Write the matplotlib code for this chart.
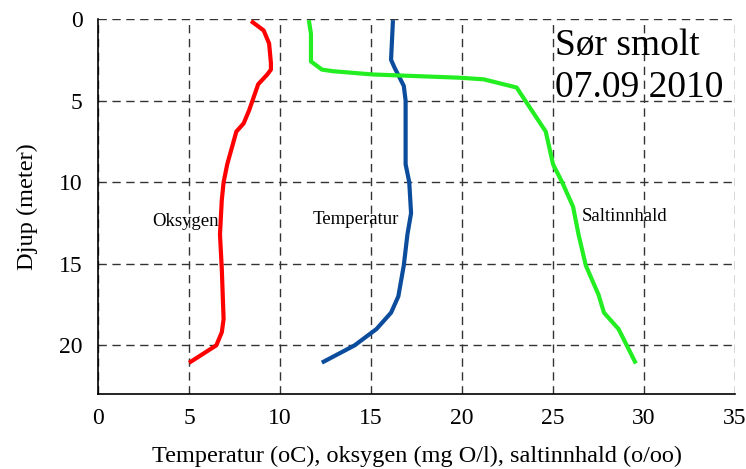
import matplotlib
matplotlib.use("Agg")
import matplotlib.pyplot as plt

# depth profiles, Sør smolt 07.09 2010
oxy_depth = [0.2, 0.7, 1.5, 2.7, 3.1, 3.4, 4.0, 5.6, 6.4, 6.9, 8.9, 10.0, 11.1, 13.2, 15.3, 18.4, 19.2, 20.0, 21.0]
oxy_value = [8.5, 9.1, 9.4, 9.5, 9.5, 9.3, 8.8, 8.3, 8.0, 7.6, 7.1, 6.9, 6.8, 6.7, 6.8, 6.9, 6.8, 6.5, 5.1]

temp_depth = [0.2, 2.5, 3.0, 4.1, 5.0, 8.9, 10.0, 11.9, 13.2, 15.1, 17.0, 18.0, 19.0, 20.0, 21.0]
temp_value = [16.2, 16.1, 16.3, 16.8, 16.9, 16.9, 17.1, 17.2, 17.0, 16.8, 16.5, 16.1, 15.3, 14.1, 12.4]

salt_depth = [0.2, 0.9, 2.6, 3.1, 3.2, 3.4, 3.6, 3.7, 4.2, 6.9, 8.9, 10.0, 11.5, 13.2, 15.1, 16.9, 18.0, 19.0, 21.0]
salt_value = [11.6, 11.7, 11.7, 12.3, 12.9, 15.1, 19.9, 21.2, 23.0, 24.6, 25.0, 25.5, 26.1, 26.4, 26.8, 27.5, 27.8, 28.6, 29.5]

xticks = [0, 5, 10, 15, 20, 25, 30, 35]
yticks = [0, 5, 10, 15, 20]

plt.rcParams["font.family"] = ["Liberation Serif", "DejaVu Serif"]

fig = plt.figure(figsize=(7.46, 4.69), dpi=100)
ax = fig.add_axes([0.1314, 0.1593, 0.8539, 0.8002])

ax.plot(oxy_value, oxy_depth, color="#ff0000", lw=3, zorder=3)
ax.plot(temp_value, temp_depth, color="#0b4c9c", lw=3, zorder=3)
ax.plot(salt_value, salt_depth, color="#22ee22", lw=3, zorder=3)

ax.set_xlim(0, 35)
ax.set_ylim(23, 0)
ax.set_xticks(xticks)
ax.set_yticks(yticks)
ax.tick_params(length=0, labelsize=17)
ax.tick_params(axis="x", pad=10)
ax.tick_params(axis="y", pad=11)

ax.grid(True, color="#333333", ls=(0, (6, 4)), lw=1)
ax.spines["top"].set_visible(False)
ax.spines["right"].set_visible(False)
ax.spines["left"].set_linewidth(1.2)
ax.spines["bottom"].set_linewidth(1.2)
ax.spines["left"].set_zorder(4)
ax.spines["bottom"].set_zorder(4)

ax.set_xlabel("Temperatur (oC), oksygen (mg O/l), saltinnhald (o/oo)", fontsize=17.5, labelpad=12)
ax.set_ylabel("Djup (meter)", fontsize=17.5, labelpad=15)

ax.text(3.0, 12.4, "Oksygen", fontsize=13.5, va="center")
ax.text(11.8, 12.3, "Temperatur", fontsize=13.5, va="center")
ax.text(26.6, 12.1, "Saltinnhald", fontsize=13.5, va="center")

ax.text(25.1, 2.2, "Sør smolt", fontsize=27, va="baseline")
ax.text(25.1, 4.8, "07.09 2010", fontsize=27, va="baseline")

fig.savefig("out.png", dpi=100)
